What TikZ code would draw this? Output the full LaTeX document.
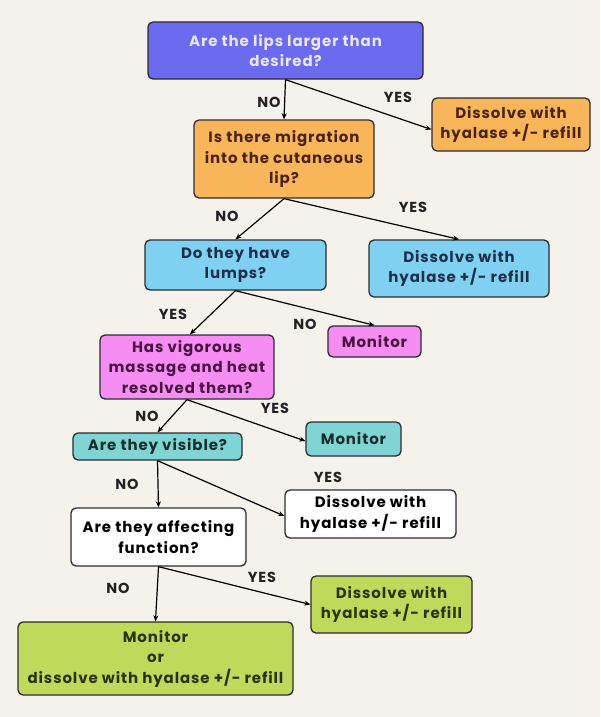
\documentclass[tikz,border=0pt]{standalone}
\usepackage{fontspec}
\setmainfont{Poppins}[LetterSpace=6]
\usetikzlibrary{arrows.meta}
\definecolor{bg}{HTML}{F5F1EB}
\definecolor{cpurple}{HTML}{6B6BEF}
\definecolor{tpurple}{HTML}{E8E6F0}
\definecolor{corange}{HTML}{F9B55A}
\definecolor{torange}{HTML}{4A2418}
\definecolor{cblue}{HTML}{80D0F2}
\definecolor{tblue}{HTML}{1E2F4A}
\definecolor{cpink}{HTML}{F58DF3}
\definecolor{tpink}{HTML}{4A1440}
\definecolor{cteal}{HTML}{7ED5D3}
\definecolor{tteal}{HTML}{1D2C2C}
\definecolor{cgreen}{HTML}{BFD95A}
\definecolor{tgreen}{HTML}{2C3314}
\definecolor{cborder}{HTML}{2B2B33}
\definecolor{tlabel}{HTML}{222226}
\begin{document}
\begin{tikzpicture}[x=1pt,y=-1pt,
  box/.style={draw=cborder,line width=1.3pt,rounded corners=5pt,align=center,
    inner sep=0pt,font=\fontsize{15}{20.5}\selectfont\bfseries,
    execute at begin node={\vspace*{4pt}}},
  lbl/.style={font=\fontsize{14.5}{16}\selectfont\bfseries,text=tlabel,inner sep=0pt},
  arr/.style={draw=black,line width=1.2pt,-{Stealth[length=6pt,width=5pt]}}]
\useasboundingbox[fill=bg] (0,0) rectangle (600,717);

\node[box,fill=cpurple,text=tpurple,minimum width=275pt,minimum height=57pt] (b1) at (285.5,50.5) {Are the lips larger than\\desired?};
\node[box,fill=corange,text=torange,minimum width=158pt,minimum height=53pt] (b3) at (511,124.5) {Dissolve with\\hyalase +/- refill};
\node[box,fill=corange,text=torange,minimum width=180pt,minimum height=78pt] (b2) at (284,159) {Is there migration\\into the cutaneous\\lip?};
\node[box,fill=cblue,text=tblue,minimum width=181pt,minimum height=50pt] (b4) at (235.5,265) {Do they have\\lumps?};
\node[box,fill=cblue,text=tblue,minimum width=180pt,minimum height=57pt] (b5) at (459,268.5) {Dissolve with\\hyalase +/- refill};
\node[box,fill=cpink,text=tpink,minimum width=93pt,minimum height=31pt] (b6) at (374.5,341.5) {Monitor};
\node[box,fill=cpink,text=tpink,minimum width=174pt,minimum height=64pt] (b7) at (187,367) {Has vigorous\\massage and heat\\resolved them?};
\node[box,fill=cteal,text=tteal,minimum width=95pt,minimum height=34pt] (b8) at (353.5,439) {Monitor};
\node[box,fill=cteal,text=tteal,minimum width=169pt,minimum height=27pt] (b9) at (157.5,446.5) {Are they visible?};
\node[box,fill=white,text=black,minimum width=171pt,minimum height=48pt] (b10) at (370.5,514) {Dissolve with\\hyalase +/- refill};
\node[box,fill=white,text=black,minimum width=175pt,minimum height=58pt] (b11) at (158.5,537) {Are they affecting\\function?};
\node[box,fill=cgreen,text=tgreen,minimum width=161pt,minimum height=57pt] (b12) at (391.5,604.5) {Dissolve with\\hyalase +/- refill};
\node[box,fill=cgreen,text=tgreen,minimum width=275pt,minimum height=73pt] (b13) at (155.5,658.5) {Monitor\\or\\dissolve with hyalase +/- refill};

\draw[arr] (b1.south) -- (b2.north);
\draw[arr] (b1.south) -- ([yshift=-5pt]b3.west);
\draw[arr] (b2.south) -- (b4.north);
\draw[arr] (b2.south) -- (b5.north);
\draw[arr] (b4.south) -- ([xshift=3pt]b7.north);
\draw[arr] (b4.south) -- (b6.north);
\draw[arr] (b7.south) -- (b9.north);
\draw[arr] (b7.south) -- ([yshift=-2pt]b8.west);
\draw[arr] (b9.south) -- (b11.north);
\draw[arr] (b9.south) -- ([yshift=-2pt]b10.west);
\draw[arr] (b11.south) -- (b13.north);
\draw[arr] (b11.south) -- (b12.west);

\node[lbl] (l1) at (269,102) {NO};
\node[lbl] (l2) at (398,97) {YES};
\node[lbl] (l3) at (227,216) {NO};
\node[lbl] (l4) at (413,207) {YES};
\node[lbl] (l5) at (173,314) {YES};
\node[lbl] (l6) at (305,324) {NO};
\node[lbl] (l7) at (147,416) {NO};
\node[lbl] (l8) at (275,408) {YES};
\node[lbl] (l9) at (127,484) {NO};
\node[lbl] (l10) at (328,477) {YES};
\node[lbl] (l11) at (118,588) {NO};
\node[lbl] (l12) at (262,577) {YES};
\end{tikzpicture}
\end{document}
